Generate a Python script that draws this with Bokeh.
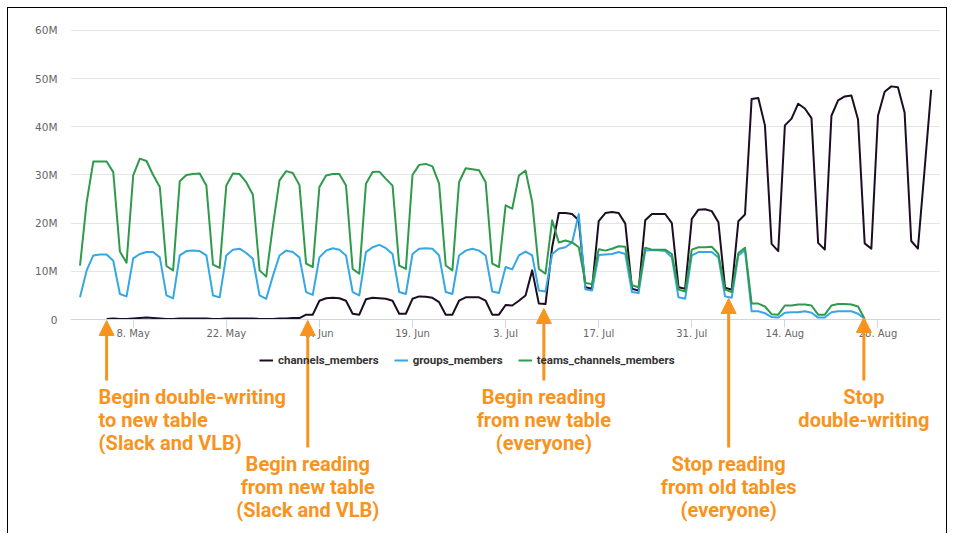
import numpy as np
import pandas as pd
from bokeh.plotting import figure
from bokeh.models import (Range1d, FixedTicker, CustomJSTickFormatter, Legend,
                          LegendItem, Arrow, NormalHead)
from bokeh.core.properties import value
from bokeh.embed import file_html
from bokeh.resources import INLINE

# ---------------- data (values in millions) ----------------
first_day = "2017-04-30"
teams_channels_members = [
    11.2, 24.3, 32.8, 32.8, 32.8, 30.6, 14.1, 11.8,
    29.9, 33.4, 32.9, 30.0, 27.5, 11.1, 10.2,
    28.7, 30.0, 30.2, 30.3, 27.8, 11.4, 10.7,
    27.8, 30.3, 30.2, 28.5, 25.9, 10.2, 8.9,
    19.4, 28.9, 30.8, 30.4, 27.9, 11.6, 10.9,
    27.5, 29.9, 30.2, 30.2, 27.8, 10.5, 9.5,
    28.2, 30.6, 30.7, 29.2, 27.8, 11.2, 10.5,
    30.0, 32.1, 32.3, 31.8, 28.2, 11.2, 10.2,
    28.5, 31.4, 31.2, 31.0, 28.5, 11.6, 10.9,
    23.7, 23.0, 29.9, 30.9, 24.4, 10.5, 9.5,
    20.6, 16.0, 16.4, 16.0, 15.0, 7.6, 7.3,
    14.6, 14.3, 14.7, 15.2, 15.1, 7.1, 6.7,
    14.9, 14.5, 14.5, 14.5, 13.6, 6.2, 5.8,
    14.5, 15.0, 15.0, 15.1, 13.6, 6.2, 5.7,
    13.8, 14.9, 3.3, 3.3, 2.7, 1.1, 1.0,
    2.9, 2.9, 3.1, 3.1, 2.9, 1.0, 1.0,
    2.9, 3.2, 3.2, 3.1, 2.7, 0.1,
]
groups_members = [
    4.6, 10.2, 13.3, 13.5, 13.5, 12.2, 5.3, 4.8,
    12.7, 13.6, 14.0, 14.0, 12.9, 5.0, 4.4,
    13.3, 14.2, 14.3, 14.2, 13.3, 5.0, 4.6,
    13.3, 14.5, 14.7, 13.8, 12.6, 5.0, 4.3,
    9.0, 13.3, 14.3, 14.0, 12.9, 5.7, 5.1,
    12.9, 14.3, 14.8, 14.5, 13.3, 5.7, 5.0,
    14.0, 15.0, 15.5, 14.8, 13.6, 5.7, 5.3,
    13.6, 14.7, 14.8, 14.7, 13.3, 5.7, 5.3,
    13.3, 14.3, 14.7, 14.3, 13.3, 5.8, 5.5,
    10.9, 10.4, 13.3, 14.1, 13.3, 6.0, 5.8,
    13.6, 14.7, 15.0, 16.0, 21.9, 6.3, 6.0,
    13.4, 13.5, 13.6, 14.0, 13.6, 5.7, 5.5,
    14.3, 14.4, 14.4, 14.2, 12.9, 4.6, 4.3,
    13.3, 14.0, 14.0, 14.0, 12.9, 4.8, 4.5,
    13.3, 14.4, 1.7, 1.7, 1.3, 0.5, 0.4,
    1.4, 1.5, 1.5, 1.7, 1.4, 0.4, 0.4,
    1.5, 1.7, 1.7, 1.7, 1.2, 0.1,
]
channels_first_day = "2017-05-04"
channels_members = [
    0.1, 0.2, 0.1, 0.1,
    0.2, 0.3, 0.4, 0.3, 0.2, 0.1, 0.1,
    0.2, 0.2, 0.2, 0.2, 0.2, 0.1, 0.1,
    0.2, 0.2, 0.2, 0.2, 0.2, 0.1, 0.1,
    0.1, 0.2, 0.2, 0.3, 0.3, 1.0, 1.0,
    3.9, 4.4, 4.5, 4.4, 3.9, 1.2, 1.0,
    4.2, 4.5, 4.4, 4.3, 3.9, 1.2, 1.2,
    4.3, 4.8, 4.7, 4.5, 3.6, 1.0, 1.0,
    3.9, 4.6, 4.6, 4.6, 3.9, 1.0, 1.0,
    3.0, 2.9, 3.9, 5.0, 10.2, 3.3, 3.2,
    15.0, 22.1, 22.1, 21.9, 20.6, 6.7, 6.4,
    20.4, 22.1, 22.3, 22.1, 19.9, 6.4, 6.0,
    20.6, 21.9, 21.9, 21.9, 20.0, 6.7, 6.4,
    20.9, 22.8, 22.9, 22.5, 20.2, 6.6, 6.2,
    20.4, 21.8, 45.8, 46.0, 40.3, 15.7, 14.2,
    40.3, 41.7, 44.8, 43.8, 41.8, 15.9, 14.5,
    42.3, 45.5, 46.3, 46.5, 41.5, 15.8, 14.7,
    42.3, 47.3, 48.4, 48.2, 43.0, 16.3, 14.7,
    31.0, 47.7,
]
x_tick_dates = ["2017-05-08", "2017-05-22", "2017-06-05", "2017-06-19", "2017-07-03",
                "2017-07-17", "2017-07-31", "2017-08-14", "2017-08-28"]
y_ticks = [0, 10, 20, 30, 40, 50, 60]

series_names = ["channels_members", "groups_members", "teams_channels_members"]
series_colors = ["#1d0d22", "#35a7e2", "#2e9a4b"]

event_dates = ["2017-05-04", "2017-06-03 06:00", "2017-07-08 18:00",
               "2017-08-05 13:00", "2017-08-25 21:00"]
event_texts = [
    ["Begin double-writing", "to new table", "(Slack and VLB)"],
    ["Begin reading", "from new table", "(Slack and VLB)"],
    ["Begin reading", "from new table", "(everyone)"],
    ["Stop reading", "from old tables", "(everyone)"],
    ["Stop", "double-writing"],
]

# ---------------- layout helpers ----------------
ORANGE = "#F7941E"
PX_PER_M = 4.8167          # vertical scale (pixels per million)
ZERO_PAGE_Y = 319          # page y of the value 0


def ms(s):
    return pd.Timestamp(s).value / 1e6


def yv(page_y):
    return (ZERO_PAGE_Y - page_y) / PX_PER_M


DAY = 86400000.0
x0 = ms("2017-05-08") - 9.43 * DAY
x1 = x0 + 130.83 * DAY

dates_tg = pd.date_range(first_day, periods=len(teams_channels_members), freq="D")
dates_c = pd.date_range(channels_first_day, periods=len(channels_members), freq="D")

# canvas placed at page (8, 8), 940 x 526
p = figure(width=940, height=526, x_axis_type="datetime", output_backend="svg",
           toolbar_location=None, x_range=Range1d(x0, x1),
           y_range=Range1d(yv(534), yv(20)),
           min_border_left=62, min_border_right=8, min_border_top=12,
           min_border_bottom=0)
p.styles = {"margin": "7px 0px 0px 7px",
            "border-top": "1px solid #000000",
            "border-left": "1px solid #000000",
            "border-right": "1px solid #000000"}
p.outline_line_color = None
p.background_fill_color = "white"
p.border_fill_color = "white"

p.xgrid.visible = False
p.ygrid.grid_line_color = "#e6e6e6"
p.ygrid.grid_line_width = 1

p.yaxis.ticker = FixedTicker(ticks=y_ticks)
p.yaxis.formatter = CustomJSTickFormatter(code="return tick == 0 ? '0' : tick + 'M';")
p.yaxis.axis_line_color = None
p.yaxis.major_tick_line_color = None
p.yaxis.minor_tick_line_color = None
p.yaxis.major_label_text_color = "#666666"
p.yaxis.major_label_text_font = "DejaVu Sans"
p.yaxis.major_label_text_font_size = "10.5px"
p.yaxis.major_label_standoff = 7

p.xaxis.fixed_location = 0
p.xaxis.ticker = FixedTicker(ticks=[ms(d) for d in x_tick_dates])
p.xaxis.formatter = CustomJSTickFormatter(code="""
const m = ['Jan','Feb','Mar','Apr','May','Jun','Jul','Aug','Sep','Oct','Nov','Dec'];
const d = new Date(tick);
return d.getUTCDate() + '. ' + m[d.getUTCMonth()];
""")
p.xaxis.axis_line_color = "#ccd6eb"
p.xaxis.major_tick_line_color = "#ccd6eb"
p.xaxis.major_tick_in = 0
p.xaxis.major_tick_out = 8
p.xaxis.minor_tick_line_color = None
p.xaxis.major_label_text_color = "#666666"
p.xaxis.major_label_text_font = "DejaVu Sans"
p.xaxis.major_label_text_font_size = "10px"
p.xaxis.major_label_standoff = 0

r_c = p.line(dates_c, channels_members, line_color=series_colors[0], line_width=2, line_join="round")
r_g = p.line(dates_tg, groups_members, line_color=series_colors[1], line_width=2, line_join="round")
r_t = p.line(dates_tg, teams_channels_members, line_color=series_colors[2], line_width=2, line_join="round")

legend = Legend(items=[LegendItem(label=n, renderers=[r]) for n, r in
                       zip(series_names, [r_c, r_g, r_t])],
                orientation="horizontal", location=(189, 167),
                border_line_color=None, background_fill_alpha=0,
                padding=0, margin=0, spacing=15, label_standoff=5,
                glyph_width=14, glyph_height=14, label_height=14,
                label_text_font="Roboto", label_text_font_style="bold",
                label_text_font_size="11.5px", label_text_color="#333333")
p.add_layout(legend)

# ---------------- annotations ----------------
tips = [320, 320, 308, 298, 317]
tails = [380, 447, 380, 447, 380]
for dt, tip, tail in zip(event_dates, tips, tails):
    p.add_layout(Arrow(end=NormalHead(size=15, fill_color=ORANGE, line_color=ORANGE, line_width=1),
                       x_start=ms(dt), y_start=yv(tail), x_end=ms(dt), y_end=yv(tip),
                       line_color=ORANGE, line_width=3))

LINE_H = 23.3
FIRST_GAP = 16.3
left_x, left_y, left_t = [], [], []
cen_x, cen_y, cen_t = [], [], []
for k, (dt, lines, tail) in enumerate(zip(event_dates, event_texts, tails)):
    for i, t in enumerate(lines):
        yy = yv(tail + FIRST_GAP + LINE_H * i)
        if k == 0:
            left_x.append(ms(dt)); left_y.append(yy); left_t.append(t)
        else:
            cen_x.append(ms(dt)); cen_y.append(yy); cen_t.append(t)

common = dict(text_baseline="alphabetic", text_font=value("Roboto"),
              text_font_style="bold", text_font_size="20px", text_color=ORANGE)
p.text(x=left_x, y=left_y, text=left_t, text_align="left", x_offset=-8, **common)
p.text(x=cen_x, y=cen_y, text=cen_t, text_align="center", **common)

open("out.html", "w").write(file_html(p, INLINE))
